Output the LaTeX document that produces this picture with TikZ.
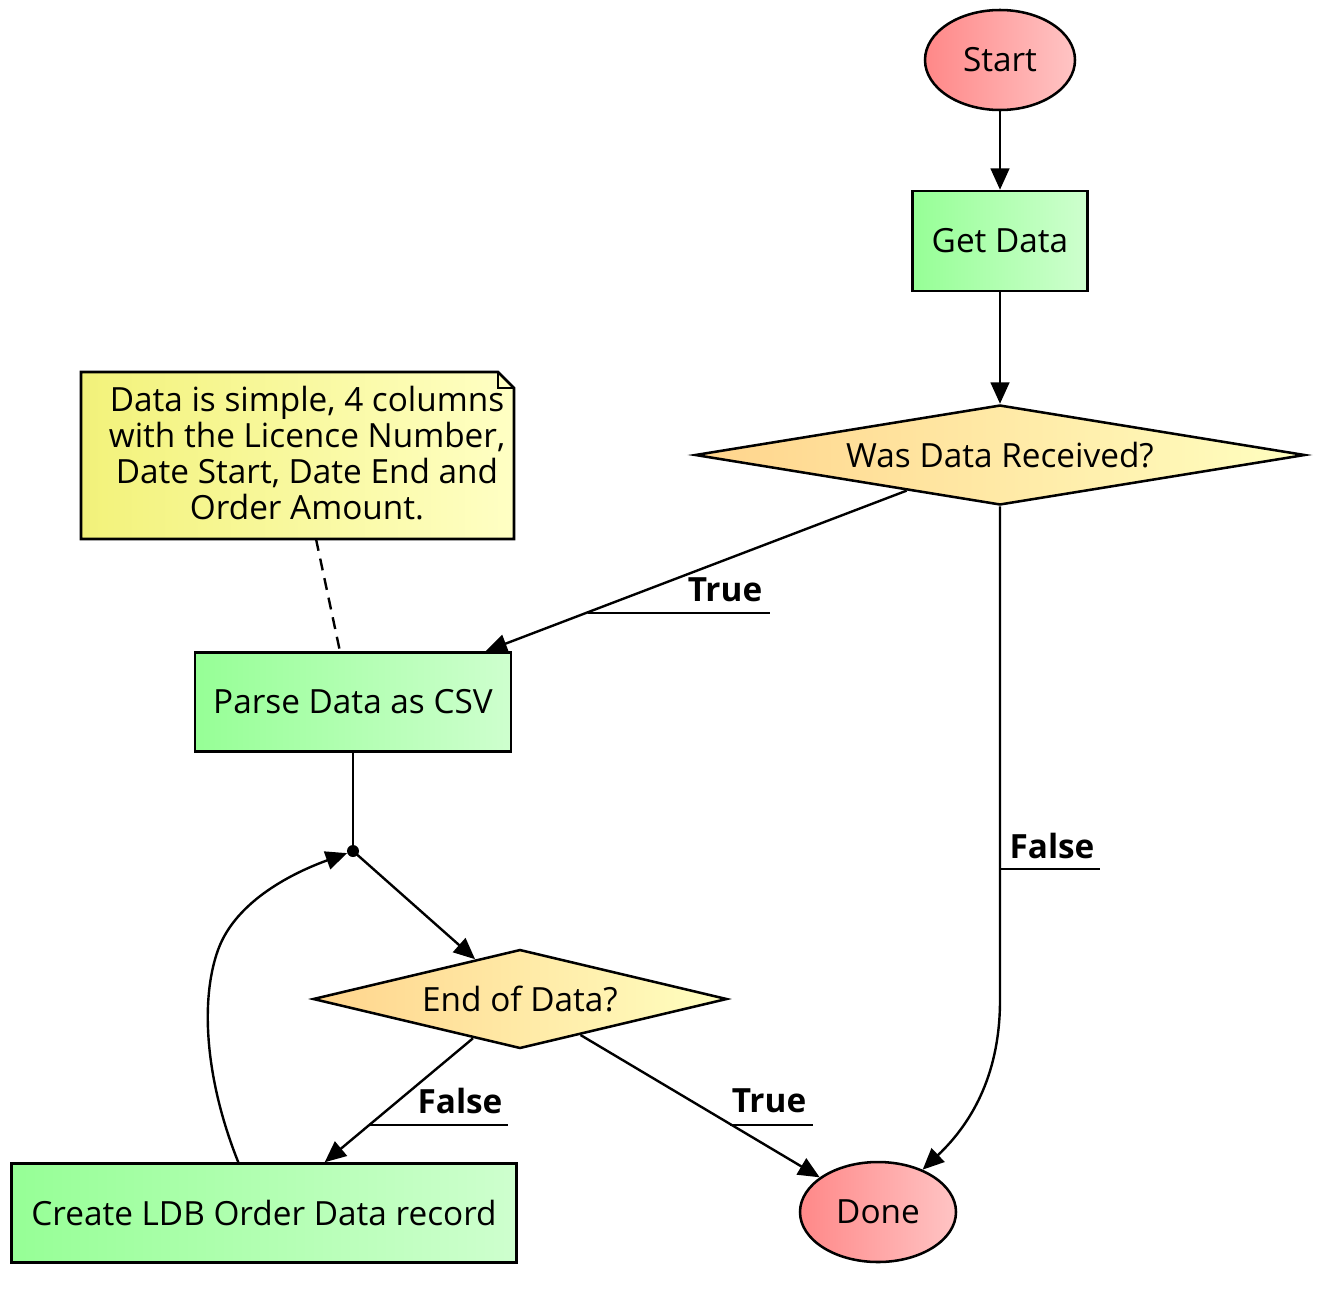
\documentclass[tikz,border=0pt]{standalone}
\usepackage{fontspec}
\setmainfont{Open Sans}
\usetikzlibrary{shapes.geometric,arrows.meta,calc}
\definecolor{redL}{RGB}{255,136,136}
\definecolor{redR}{RGB}{255,196,196}
\definecolor{grnL}{RGB}{150,255,150}
\definecolor{grnR}{RGB}{206,255,206}
\definecolor{dmdL}{RGB}{255,212,140}
\definecolor{dmdR}{RGB}{255,255,192}
\definecolor{notL}{RGB}{242,242,122}
\definecolor{notR}{RGB}{255,255,196}
\begin{document}
\begin{tikzpicture}[x=0.75pt,y=0.75pt,
  every node/.style={font=\fontsize{25}{27}\selectfont},
  border/.style={draw=black, line width=1.9pt},
  terminal/.style={border, ellipse, inner sep=0pt, left color=redL, right color=redR},
  action/.style={border, rectangle, inner sep=0pt, left color=grnL, right color=grnR, minimum height=75pt},
  decision/.style={border, diamond, inner sep=0pt, left color=dmdL, right color=dmdR},
  edge/.style={line width=1.8pt, draw=black},
  arr/.style={edge, -{Triangle[length=16pt,width=14pt]}},
  lbl/.style={font=\fontsize{25}{27}\selectfont\bfseries, inner sep=0pt},
  uline/.style={line width=1.8pt}
]
\useasboundingbox (0,0) rectangle (1331,-1289);

% nodes
\node[terminal, minimum width=112.5pt, minimum height=75pt] (start) at (1000,-60) {Start};
\node[action, minimum width=131.25pt] (get) at (1000,-241) {Get Data};
\node[decision, aspect=6.1, minimum width=457.5pt, minimum height=75pt] (was) at (1000,-455) {Was Data Received?};

% note
\path[border, left color=notL, right color=notR]
  (81,-372) -- (498,-372) -- (514,-388) -- (514,-539) -- (81,-539) -- cycle;
\draw[line width=1.2pt] (498,-372) -- (498,-388) -- (514,-388);
\node[align=center, inner sep=0pt] (note) at (307,-453)
  {Data is simple, 4 columns\\with the Licence Number,\\Date Start, Date End and\\Order Amount.};
\coordinate (noteanchor) at (316,-539);

\node[action, minimum width=237pt, minimum height=74.25pt] (parse) at (353,-702) {Parse Data as CSV};
\node[circle, fill=black, inner sep=0pt, minimum size=9pt] (jn) at (353,-851) {};
\node[decision, aspect=4.18, minimum width=310.5pt, minimum height=74.25pt] (eod) at (520,-999) {End of Data?};
\node[action, minimum width=378.75pt, minimum height=74.25pt] (create) at (264,-1213) {Create LDB Order Data record};
\node[terminal, minimum width=117pt, minimum height=75pt] (done) at (878,-1212) {Done};

% connectors
\draw[arr] (start) -- (get);
\draw[arr] (get) -- (was);
\draw[arr] (was) -- (parse);
\node[lbl] (ltrue1) at (725,-590) {True};
\draw[uline] (588,-613) -- (770,-613);

\draw[arr] (was.south) -- (1000,-1000) .. controls (1000,-1070) and (975,-1120) .. (done);
\node[lbl] (lfalse1) at (1052,-846) {False};
\draw[uline] (1000,-869) -- (1100,-869);

\draw[edge, dash pattern=on 9pt off 6pt] (noteanchor) -- ($(parse.north)+(-12,-5)$);

\draw[edge] (parse) -- (jn.center);
\draw[arr] (jn.center) -- (eod);

\draw[arr] (eod) -- (create);
\node[lbl] (lfalse2) at (460,-1101) {False};
\draw[uline] (370,-1125) -- (508,-1125);

\draw[arr] (eod) -- (done);
\node[lbl] (ltrue2) at (769,-1101) {True};
\draw[uline] (730,-1125) -- (813,-1125);

\coordinate (cstart) at (239,-1164);
\draw[arr] (cstart) .. controls (205,-1080) and (200,-1000) .. (218,-950)
  .. controls (236,-900) and (295,-872) .. (jn);
\end{tikzpicture}
\end{document}
